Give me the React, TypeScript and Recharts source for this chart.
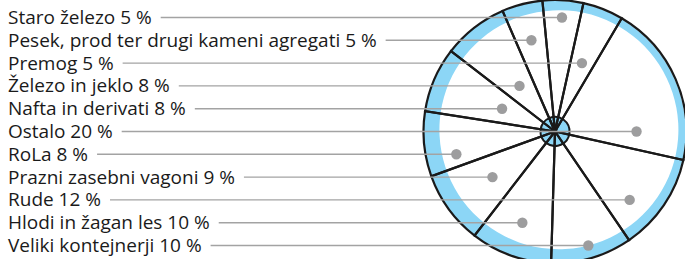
import React from 'react';
import { PieChart, Pie } from 'recharts';

// slices in drawing order, clockwise from the top-left spoke
const categories = [
  'Pesek, prod ter drugi kameni agregati',
  'Staro železo',
  'Premog',
  'Ostalo',
  'Rude',
  'Veliki kontejnerji',
  'Hlodi in žagan les',
  'Prazni zasebni vagoni',
  'RoLa',
  'Nafta in derivati',
  'Železo in jeklo',
];
const shares = [5, 5, 5, 20, 12, 10, 10, 9, 8, 8, 8];

// order of the labels on the left, top to bottom
const labelOrder = [
  'Staro železo',
  'Pesek, prod ter drugi kameni agregati',
  'Premog',
  'Železo in jeklo',
  'Nafta in derivati',
  'Ostalo',
  'RoLa',
  'Prazni zasebni vagoni',
  'Rude',
  'Hlodi in žagan les',
  'Veliki kontejnerji',
];

const data = categories.map((name, i) => ({ name, value: shares[i] }));
const whole = [{ name: 'all', value: 1 }];

const FONT = '"Open Sans", "Noto Sans", sans-serif';
const FONT_SIZE = 19;
const ROW_TOP = 17.5;
const ROW_GAP = 22.8;
const START = 113.5;

let ctx: CanvasRenderingContext2D | null = null;
const textWidth = (s: string) => {
  if (!ctx) ctx = document.createElement('canvas').getContext('2d');
  if (!ctx) return s.length * 9.5;
  ctx.font = `${FONT_SIZE}px "Open Sans"`;
  return ctx.measureText(s).width;
};

const renderLabel = (props: any) => {
  const { cx, cy, midAngle, outerRadius, index } = props;
  const name = categories[index];
  const row = labelOrder.indexOf(name);
  const y = ROW_TOP + row * ROW_GAP;
  const text = `${name} ${shares[index]} %`;

  // dot sits on the row's line, inside its slice
  const rad = (midAngle * Math.PI) / 180;
  const up = cy - y;
  const s = Math.sin(rad);
  const t = Math.abs(s) > 1e-3 ? up / s : -1;
  let dotX: number;
  if (t > outerRadius * 0.2 && t < outerRadius * 0.92) {
    dotX = cx + t * Math.cos(rad);
  } else {
    // row misses the slice's middle ray: pull the dot in
    const r = outerRadius * (Math.abs(up) < 10 ? 0.62 : 0.77);
    const dx = Math.sqrt(Math.max(r * r - up * up, 0));
    dotX = cx + (Math.cos(rad) >= 0 ? dx : -dx);
  }
  const x0 = 8 + textWidth(text) + 9;

  return (
    <g key={`lbl-${index}`}>
      <line x1={x0} y1={y} x2={dotX} y2={y} stroke="#a3a3a3" strokeWidth={1.4} />
      <circle cx={dotX} cy={y} r={5.2} fill="#9d9d9e" />
      <text x={8} y={y + 6.5} fill="#1a1a1a" fontSize={FONT_SIZE} fontFamily={FONT}>
        {text}
      </text>
    </g>
  );
};

export default function App() {
  return (
    <div style={{ position: 'absolute', left: 0, top: 0 }}>
      <PieChart width={685} height={259} margin={{ top: 0, right: 0, bottom: 0, left: 0 }}>
        <Pie
          data={whole}
          dataKey="value"
          cx={555}
          cy={131.5}
          innerRadius={119.5}
          outerRadius={131}
          startAngle={START}
          endAngle={START - 360}
          fill="#8cd6f6"
          stroke="none"
          isAnimationActive={false}
        />
        <Pie
          data={whole}
          dataKey="value"
          cx={555}
          cy={131.5}
          outerRadius={14.5}
          startAngle={START}
          endAngle={START - 360}
          fill="#8cd6f6"
          stroke="#1a1a1a"
          strokeWidth={2}
          isAnimationActive={false}
        />
        <Pie
          data={data}
          dataKey="value"
          nameKey="name"
          cx={555}
          cy={131.5}
          outerRadius={131.5}
          startAngle={START}
          endAngle={START - 360}
          fill="none"
          stroke="#1a1a1a"
          strokeWidth={2.2}
          label={renderLabel}
          labelLine={false}
          isAnimationActive={false}
        />
      </PieChart>
    </div>
  );
}
